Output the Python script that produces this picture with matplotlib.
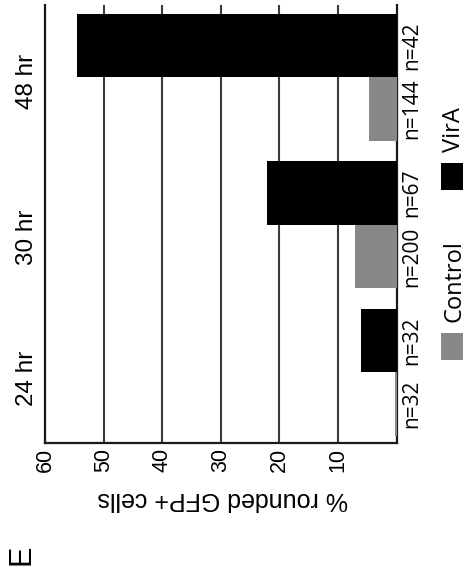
import matplotlib
matplotlib.use("Agg")
import matplotlib.pyplot as plt
from matplotlib.patches import Rectangle
import matplotlib.transforms as mtransforms
import numpy as np

# Data
timepoints = ["24 hr", "30 hr", "48 hr"]
series_names = ["Control", "VirA"]
control_pct = [0.3, 7.1, 4.8]
vira_pct = [6.1, 22.2, 54.5]
control_n = ["n=32", "n=200", "n=144"]
vira_n = ["n=32", "n=67", "n=42"]
value_ticks = [10, 20, 30, 40, 50, 60]
axis_label = "% rounded GFP+ cells"
panel_letter = "E"

plt.rcParams["font.family"] = ["Liberation Sans", "DejaVu Sans"]

colors = {"Control": "#888888", "VirA": "#000000"}
W, H = 468, 576
fig = plt.figure(figsize=(W / 100, H / 100), dpi=100)

# axes box in pixels: left, right, top, bottom
L, R, T, B = 45, 396.7, 5, 442.7
ax = fig.add_axes([L / W, 1 - B / H, (R - L) / W, (B - T) / H])

group_pos = np.arange(len(timepoints), dtype=float)
bar_h = 0.43
off = 0.215

ax.barh(group_pos - off, control_pct, height=bar_h, color=colors["Control"],
        edgecolor="none", zorder=3)
ax.barh(group_pos + off, vira_pct, height=bar_h, color=colors["VirA"],
        edgecolor="none", zorder=3)

ax.set_xlim(60, 0)
ax.set_ylim(-0.476, 2.49)

ax.set_xticks(value_ticks)
ax.set_xticklabels([str(v) for v in value_ticks], rotation=90, fontsize=15.5)
ax.tick_params(axis="x", length=0, pad=4)
ax.set_yticks([])

ax.grid(axis="x", color="#3a3a3a", linewidth=1.5, zorder=1)
ax.set_axisbelow(True)

for side in ["left", "right", "bottom"]:
    ax.spines[side].set_linewidth(1.6)
    ax.spines[side].set_color("#1a1a1a")
ax.spines["top"].set_visible(False)

# time point labels on the left
label_nudge = [-0.037, -0.085, -0.03]
lab_trans = mtransforms.blended_transform_factory(ax.transAxes, ax.transData)
for p, name, nd in zip(group_pos, timepoints, label_nudge):
    ax.text(-0.0498, p + nd, name, rotation=90, ha="center", va="center",
            transform=lab_trans, fontsize=17.5, clip_on=False)

# sample sizes beside each bar
for p, nc, nv in zip(group_pos, control_n, vira_n):
    ax.text(1.042, p - off, nc, rotation=90, ha="center", va="center",
            transform=lab_trans, family="Open Sans", fontsize=15, clip_on=False)
    ax.text(1.042, p + off, nv, rotation=90, ha="center", va="center",
            transform=lab_trans, family="Open Sans", fontsize=15, clip_on=False)

# value axis title
fig.text(223 / W, 1 - 499 / H, axis_label, rotation=180, ha="center",
         va="center", fontsize=18)

# panel letter
fig.text(22 / W, 1 - 555 / H, panel_letter, rotation=90, ha="center",
         va="center", fontsize=22)

# legend
legend_boxes = {"Control": (441, 333), "VirA": (441, 163)}
legend_text_y = {"Control": 281.5, "VirA": 129.5}
for name in series_names:
    x0, y0 = legend_boxes[name]
    fig.patches.append(Rectangle((x0 / W, 1 - (y0 + 27) / H), 22 / W, 27 / H,
                                 transform=fig.transFigure,
                                 facecolor=colors[name], edgecolor="none"))
    fig.text(454 / W, 1 - legend_text_y[name] / H, name, rotation=90,
             ha="center", va="center", family="Open Sans", fontsize=17)

fig.savefig("out.png", dpi=100, facecolor="white")
